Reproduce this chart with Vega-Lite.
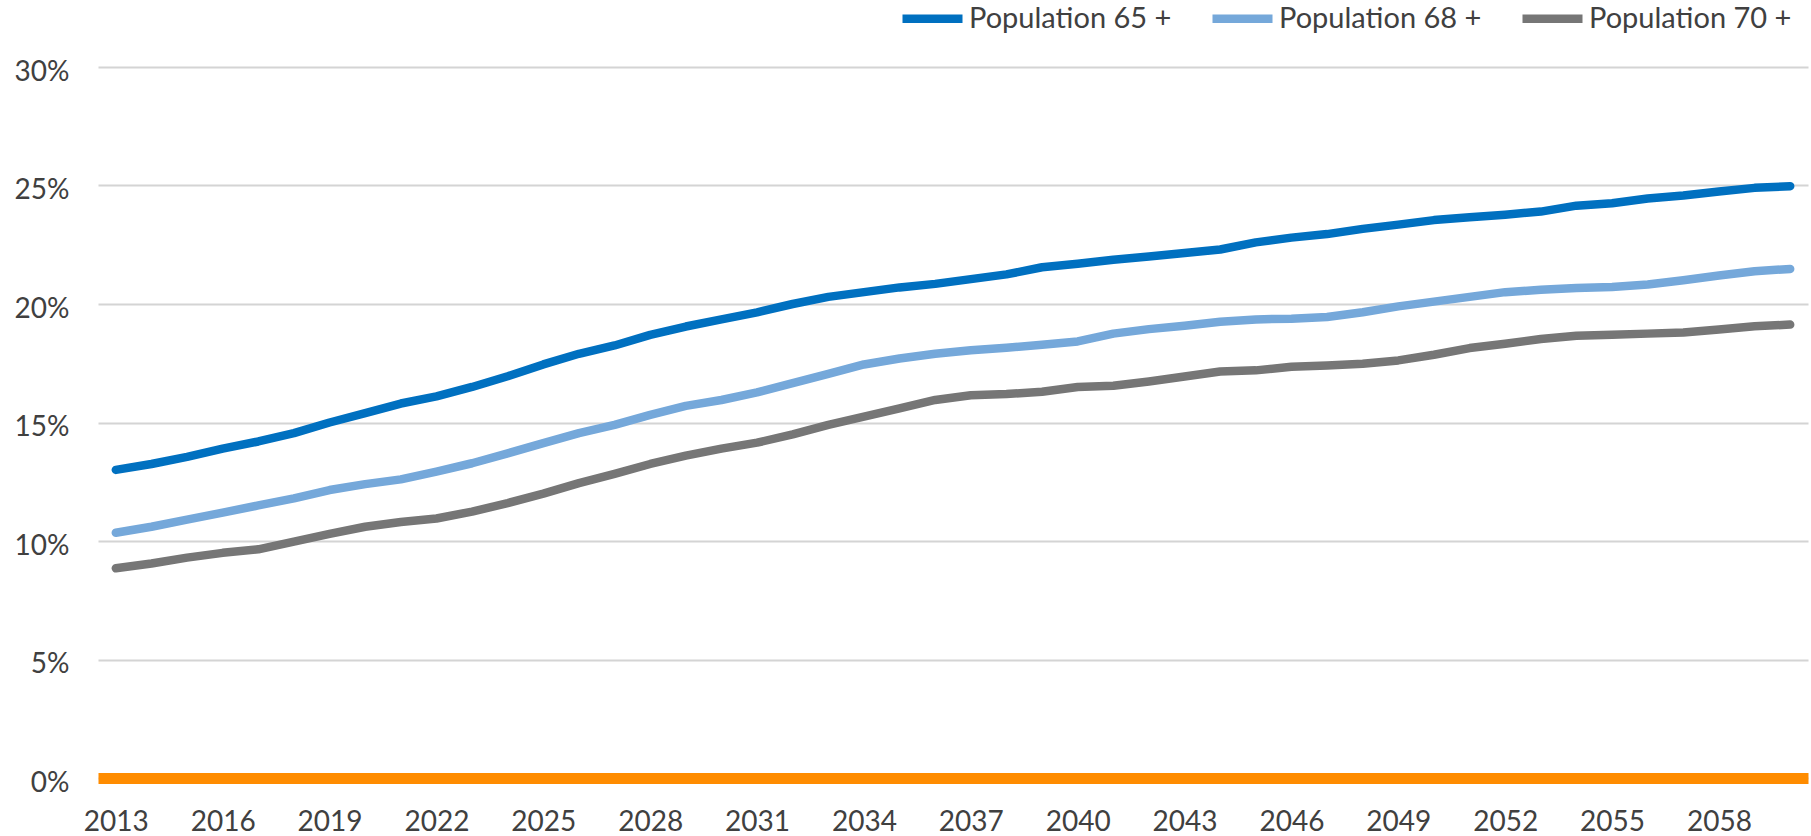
{
  "$schema": "https://vega.github.io/schema/vega-lite/v6.json",
  "autosize": {"type": "none"},
  "width": 1710,
  "height": 711,
  "padding": {"left": 98, "top": 67, "right": 3, "bottom": 58},
  "background": "white",
  "config": {
    "view": {"stroke": null},
    "font": "Lato",
    "axis": {"labelFont": "Lato", "labelColor": "#404040", "labelFontSize": 28},
    "legend": {"labelFont": "Lato", "labelColor": "#404040", "labelFontSize": 29}
  },
  "data": {
    "values": [
      {"year": 2013, "series": "Population 65 +", "value": 13.0},
      {"year": 2014, "series": "Population 65 +", "value": 13.25},
      {"year": 2015, "series": "Population 65 +", "value": 13.55},
      {"year": 2016, "series": "Population 65 +", "value": 13.9},
      {"year": 2017, "series": "Population 65 +", "value": 14.2},
      {"year": 2018, "series": "Population 65 +", "value": 14.55},
      {"year": 2019, "series": "Population 65 +", "value": 15.0},
      {"year": 2020, "series": "Population 65 +", "value": 15.4},
      {"year": 2021, "series": "Population 65 +", "value": 15.8},
      {"year": 2022, "series": "Population 65 +", "value": 16.1},
      {"year": 2023, "series": "Population 65 +", "value": 16.5},
      {"year": 2024, "series": "Population 65 +", "value": 16.95},
      {"year": 2025, "series": "Population 65 +", "value": 17.45},
      {"year": 2026, "series": "Population 65 +", "value": 17.9},
      {"year": 2027, "series": "Population 65 +", "value": 18.25},
      {"year": 2028, "series": "Population 65 +", "value": 18.7},
      {"year": 2029, "series": "Population 65 +", "value": 19.05},
      {"year": 2030, "series": "Population 65 +", "value": 19.35},
      {"year": 2031, "series": "Population 65 +", "value": 19.65},
      {"year": 2032, "series": "Population 65 +", "value": 20.0},
      {"year": 2033, "series": "Population 65 +", "value": 20.3},
      {"year": 2034, "series": "Population 65 +", "value": 20.5},
      {"year": 2035, "series": "Population 65 +", "value": 20.7},
      {"year": 2036, "series": "Population 65 +", "value": 20.85},
      {"year": 2037, "series": "Population 65 +", "value": 21.05},
      {"year": 2038, "series": "Population 65 +", "value": 21.25},
      {"year": 2039, "series": "Population 65 +", "value": 21.55},
      {"year": 2040, "series": "Population 65 +", "value": 21.7},
      {"year": 2041, "series": "Population 65 +", "value": 21.87},
      {"year": 2042, "series": "Population 65 +", "value": 22.0},
      {"year": 2043, "series": "Population 65 +", "value": 22.15},
      {"year": 2044, "series": "Population 65 +", "value": 22.3},
      {"year": 2045, "series": "Population 65 +", "value": 22.6},
      {"year": 2046, "series": "Population 65 +", "value": 22.8},
      {"year": 2047, "series": "Population 65 +", "value": 22.95},
      {"year": 2048, "series": "Population 65 +", "value": 23.17},
      {"year": 2049, "series": "Population 65 +", "value": 23.35},
      {"year": 2050, "series": "Population 65 +", "value": 23.54},
      {"year": 2051, "series": "Population 65 +", "value": 23.66},
      {"year": 2052, "series": "Population 65 +", "value": 23.77},
      {"year": 2053, "series": "Population 65 +", "value": 23.9},
      {"year": 2054, "series": "Population 65 +", "value": 24.15},
      {"year": 2055, "series": "Population 65 +", "value": 24.25},
      {"year": 2056, "series": "Population 65 +", "value": 24.45},
      {"year": 2057, "series": "Population 65 +", "value": 24.58},
      {"year": 2058, "series": "Population 65 +", "value": 24.75},
      {"year": 2059, "series": "Population 65 +", "value": 24.9},
      {"year": 2060, "series": "Population 65 +", "value": 24.97},
      {"year": 2013, "series": "Population 68 +", "value": 10.35},
      {"year": 2014, "series": "Population 68 +", "value": 10.6},
      {"year": 2015, "series": "Population 68 +", "value": 10.9},
      {"year": 2016, "series": "Population 68 +", "value": 11.2},
      {"year": 2017, "series": "Population 68 +", "value": 11.5},
      {"year": 2018, "series": "Population 68 +", "value": 11.8},
      {"year": 2019, "series": "Population 68 +", "value": 12.15},
      {"year": 2020, "series": "Population 68 +", "value": 12.4},
      {"year": 2021, "series": "Population 68 +", "value": 12.6},
      {"year": 2022, "series": "Population 68 +", "value": 12.93},
      {"year": 2023, "series": "Population 68 +", "value": 13.28},
      {"year": 2024, "series": "Population 68 +", "value": 13.7},
      {"year": 2025, "series": "Population 68 +", "value": 14.13},
      {"year": 2026, "series": "Population 68 +", "value": 14.55},
      {"year": 2027, "series": "Population 68 +", "value": 14.9},
      {"year": 2028, "series": "Population 68 +", "value": 15.32},
      {"year": 2029, "series": "Population 68 +", "value": 15.7},
      {"year": 2030, "series": "Population 68 +", "value": 15.95},
      {"year": 2031, "series": "Population 68 +", "value": 16.27},
      {"year": 2032, "series": "Population 68 +", "value": 16.66},
      {"year": 2033, "series": "Population 68 +", "value": 17.05},
      {"year": 2034, "series": "Population 68 +", "value": 17.45},
      {"year": 2035, "series": "Population 68 +", "value": 17.7},
      {"year": 2036, "series": "Population 68 +", "value": 17.9},
      {"year": 2037, "series": "Population 68 +", "value": 18.05},
      {"year": 2038, "series": "Population 68 +", "value": 18.15},
      {"year": 2039, "series": "Population 68 +", "value": 18.28},
      {"year": 2040, "series": "Population 68 +", "value": 18.42},
      {"year": 2041, "series": "Population 68 +", "value": 18.75},
      {"year": 2042, "series": "Population 68 +", "value": 18.94},
      {"year": 2043, "series": "Population 68 +", "value": 19.08},
      {"year": 2044, "series": "Population 68 +", "value": 19.25},
      {"year": 2045, "series": "Population 68 +", "value": 19.35},
      {"year": 2046, "series": "Population 68 +", "value": 19.38},
      {"year": 2047, "series": "Population 68 +", "value": 19.45},
      {"year": 2048, "series": "Population 68 +", "value": 19.65},
      {"year": 2049, "series": "Population 68 +", "value": 19.9},
      {"year": 2050, "series": "Population 68 +", "value": 20.1},
      {"year": 2051, "series": "Population 68 +", "value": 20.3},
      {"year": 2052, "series": "Population 68 +", "value": 20.5},
      {"year": 2053, "series": "Population 68 +", "value": 20.6},
      {"year": 2054, "series": "Population 68 +", "value": 20.68},
      {"year": 2055, "series": "Population 68 +", "value": 20.72},
      {"year": 2056, "series": "Population 68 +", "value": 20.82},
      {"year": 2057, "series": "Population 68 +", "value": 21.0},
      {"year": 2058, "series": "Population 68 +", "value": 21.2},
      {"year": 2059, "series": "Population 68 +", "value": 21.38},
      {"year": 2060, "series": "Population 68 +", "value": 21.48},
      {"year": 2013, "series": "Population 70 +", "value": 8.85},
      {"year": 2014, "series": "Population 70 +", "value": 9.05},
      {"year": 2015, "series": "Population 70 +", "value": 9.3},
      {"year": 2016, "series": "Population 70 +", "value": 9.5},
      {"year": 2017, "series": "Population 70 +", "value": 9.65},
      {"year": 2018, "series": "Population 70 +", "value": 9.97},
      {"year": 2019, "series": "Population 70 +", "value": 10.3},
      {"year": 2020, "series": "Population 70 +", "value": 10.6},
      {"year": 2021, "series": "Population 70 +", "value": 10.8},
      {"year": 2022, "series": "Population 70 +", "value": 10.95},
      {"year": 2023, "series": "Population 70 +", "value": 11.24},
      {"year": 2024, "series": "Population 70 +", "value": 11.6},
      {"year": 2025, "series": "Population 70 +", "value": 12.0},
      {"year": 2026, "series": "Population 70 +", "value": 12.44},
      {"year": 2027, "series": "Population 70 +", "value": 12.83},
      {"year": 2028, "series": "Population 70 +", "value": 13.25},
      {"year": 2029, "series": "Population 70 +", "value": 13.6},
      {"year": 2030, "series": "Population 70 +", "value": 13.9},
      {"year": 2031, "series": "Population 70 +", "value": 14.15},
      {"year": 2032, "series": "Population 70 +", "value": 14.5},
      {"year": 2033, "series": "Population 70 +", "value": 14.9},
      {"year": 2034, "series": "Population 70 +", "value": 15.25},
      {"year": 2035, "series": "Population 70 +", "value": 15.6},
      {"year": 2036, "series": "Population 70 +", "value": 15.95},
      {"year": 2037, "series": "Population 70 +", "value": 16.15},
      {"year": 2038, "series": "Population 70 +", "value": 16.2},
      {"year": 2039, "series": "Population 70 +", "value": 16.3},
      {"year": 2040, "series": "Population 70 +", "value": 16.5},
      {"year": 2041, "series": "Population 70 +", "value": 16.55},
      {"year": 2042, "series": "Population 70 +", "value": 16.73},
      {"year": 2043, "series": "Population 70 +", "value": 16.94},
      {"year": 2044, "series": "Population 70 +", "value": 17.15},
      {"year": 2045, "series": "Population 70 +", "value": 17.2},
      {"year": 2046, "series": "Population 70 +", "value": 17.35},
      {"year": 2047, "series": "Population 70 +", "value": 17.4},
      {"year": 2048, "series": "Population 70 +", "value": 17.48},
      {"year": 2049, "series": "Population 70 +", "value": 17.62},
      {"year": 2050, "series": "Population 70 +", "value": 17.86},
      {"year": 2051, "series": "Population 70 +", "value": 18.14},
      {"year": 2052, "series": "Population 70 +", "value": 18.32},
      {"year": 2053, "series": "Population 70 +", "value": 18.52},
      {"year": 2054, "series": "Population 70 +", "value": 18.66},
      {"year": 2055, "series": "Population 70 +", "value": 18.7},
      {"year": 2056, "series": "Population 70 +", "value": 18.75},
      {"year": 2057, "series": "Population 70 +", "value": 18.8},
      {"year": 2058, "series": "Population 70 +", "value": 18.92},
      {"year": 2059, "series": "Population 70 +", "value": 19.06},
      {"year": 2060, "series": "Population 70 +", "value": 19.13}
    ]
  },
  "mark": {"type": "line", "strokeWidth": 8.5, "strokeCap": "round", "strokeJoin": "round"},
  "encoding": {
    "x": {
      "field": "year",
      "type": "ordinal",
      "scale": {"type": "point", "padding": 0.5},
      "axis": {
        "title": null,
        "values": [2013, 2016, 2019, 2022, 2025, 2028, 2031, 2034, 2037, 2040, 2043, 2046, 2049, 2052, 2055, 2058],
        "labelAngle": 0,
        "ticks": false,
        "labelPadding": 30,
        "domain": true,
        "domainColor": "#FF8C00",
        "domainWidth": 11,
        "grid": false
      }
    },
    "y": {
      "field": "value",
      "type": "quantitative",
      "scale": {"domain": [0, 30], "nice": false},
      "axis": {
        "title": null,
        "values": [0, 5, 10, 15, 20, 25, 30],
        "labelExpr": "datum.value + '%'",
        "ticks": false,
        "domain": false,
        "labelPadding": 29,
        "labelOffset": 5,
        "gridColor": "#D4D4D4",
        "gridWidth": 2
      }
    },
    "color": {
      "field": "series",
      "type": "nominal",
      "scale": {
        "domain": ["Population 65 +", "Population 68 +", "Population 70 +"],
        "range": ["#0070C0", "#75A8DA", "#767676"]
      },
      "legend": {
        "title": null,
        "orient": "none",
        "direction": "horizontal",
        "legendX": 800,
        "legendY": -83,
        "padding": 0,
        "symbolType": "stroke",
        "symbolSize": 3600,
        "symbolStrokeWidth": 8.5,
        "labelOffset": 2,
        "labelLimit": 400,
        "columnPadding": 23
      }
    }
  }
}
